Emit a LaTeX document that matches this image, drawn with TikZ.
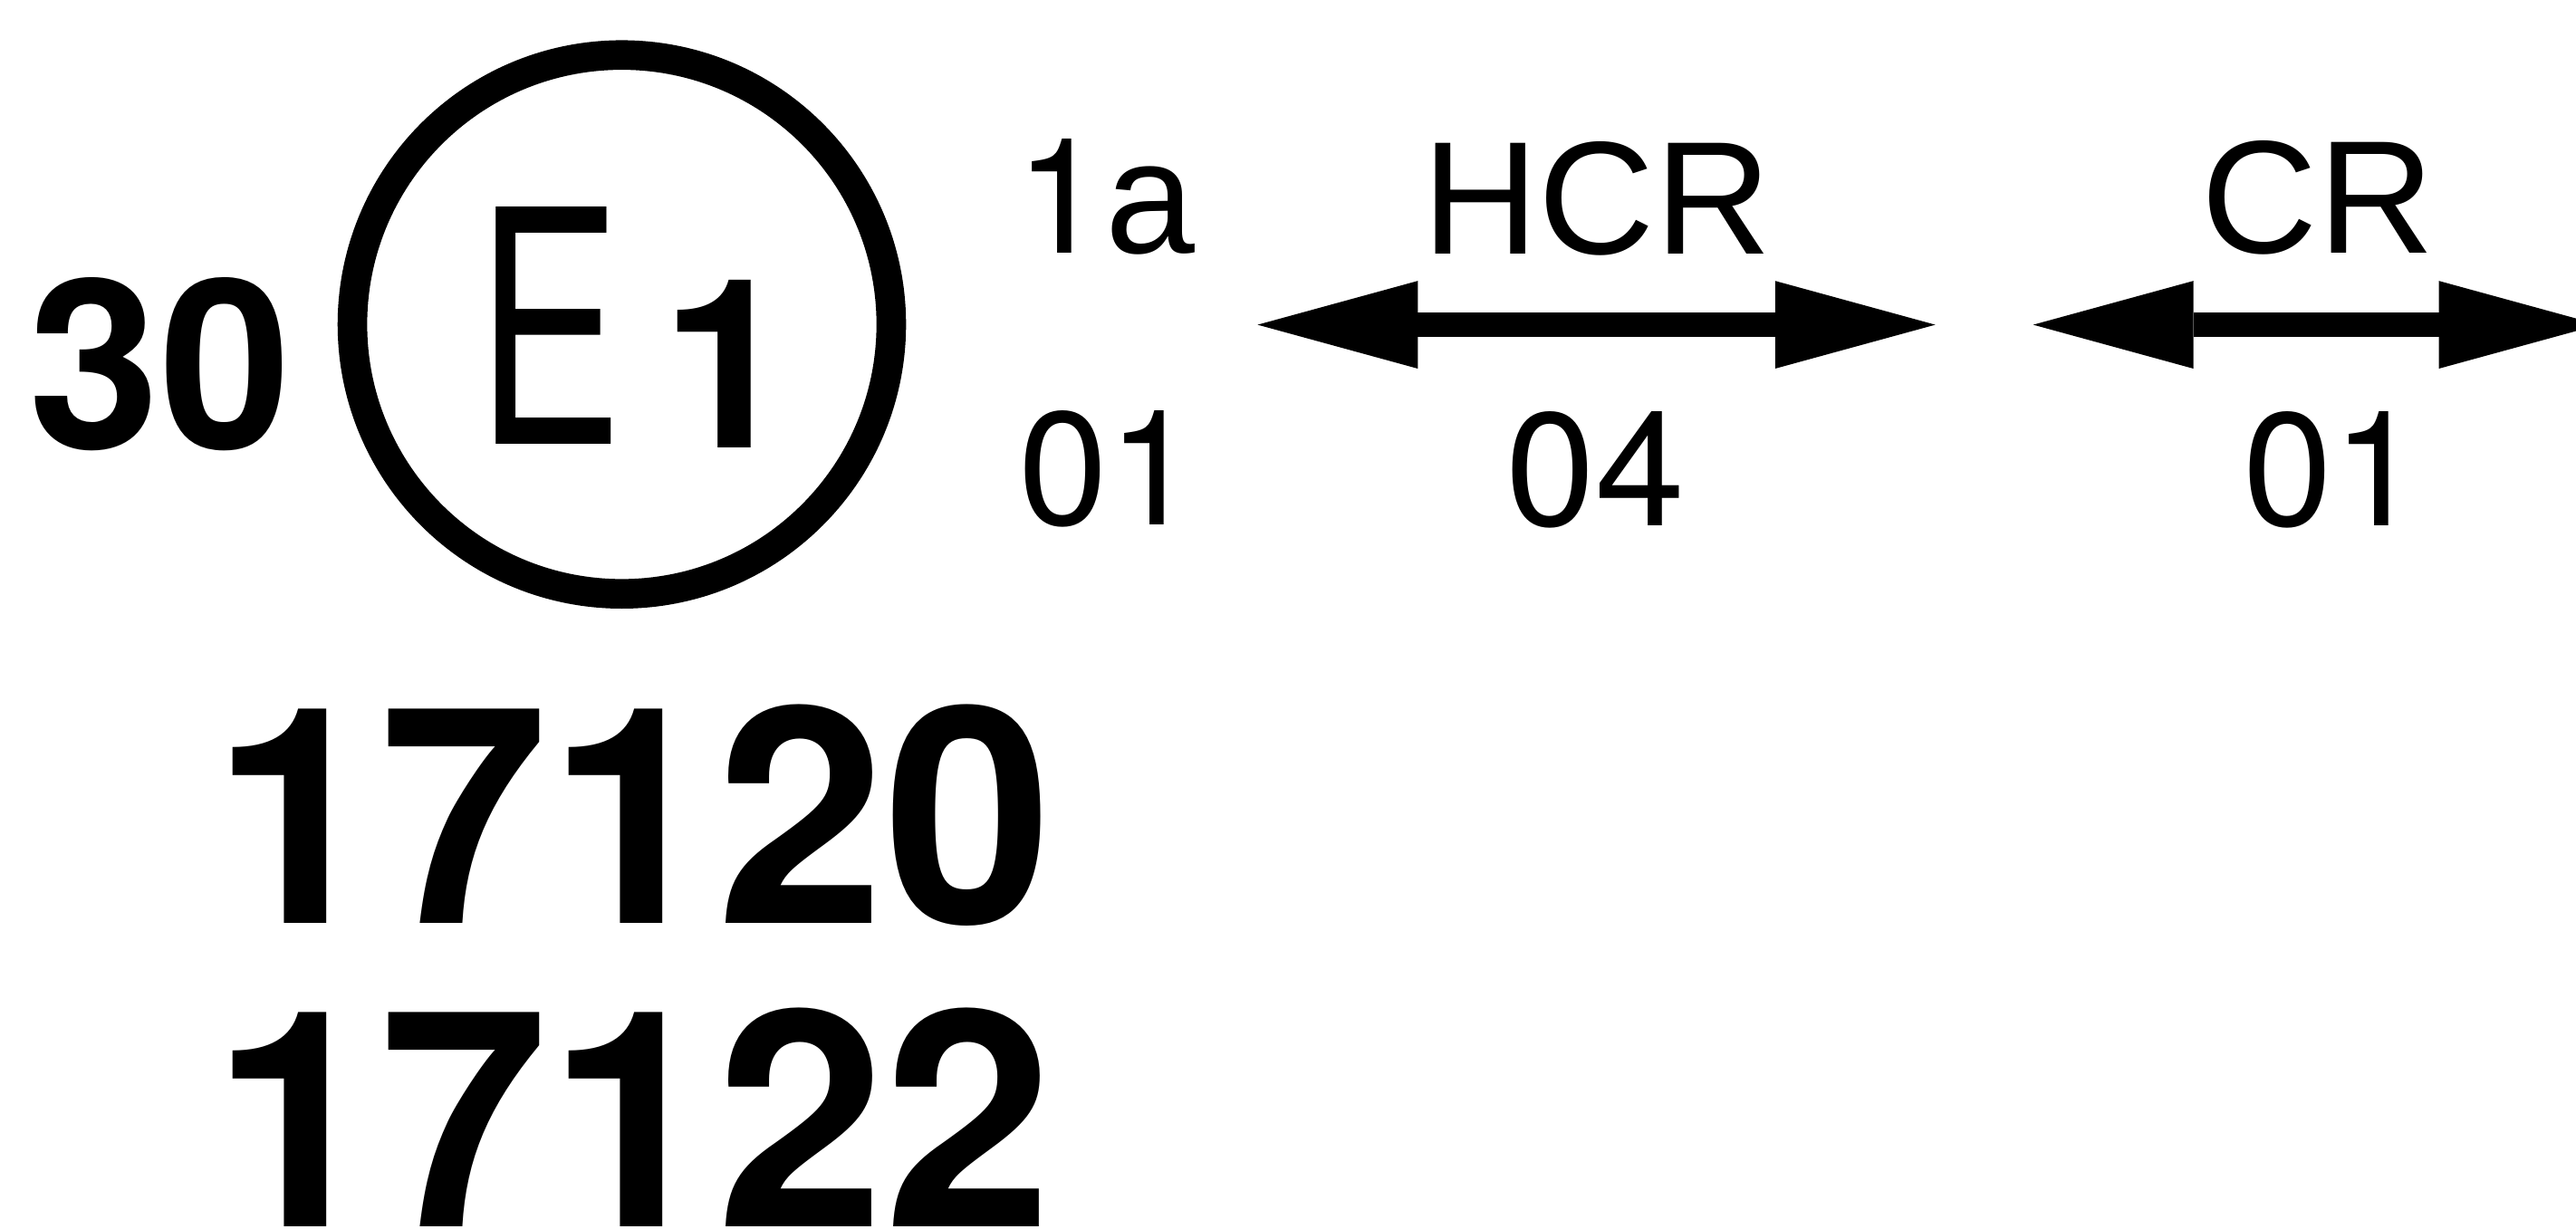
\documentclass[tikz,border=0pt]{standalone}
\usepackage{fontspec}
\usepackage{graphicx}
\setmainfont{Liberation Sans}
\newfontfamily\digitfont{TeX Gyre Heros}
\usetikzlibrary{arrows.meta}
\begin{document}
\begin{tikzpicture}[x=0.5pt,y=-0.5pt,
  lbl/.style={inner sep=0pt, font=\fontsize{49}{50}\selectfont},
  numlbl/.style={inner sep=0pt, font=\digitfont\fontsize{49}{50}\selectfont},
  bignum/.style={inner sep=0pt, font=\digitfont\bfseries\fontsize{92}{96}\selectfont},
  midnum/.style={inner sep=0pt, font=\digitfont\bfseries\fontsize{72}{76}\selectfont},
  efont/.style={inner sep=0pt, font=\fontsize{105}{105}\selectfont},
  ring/.style={circle, draw, line width=9pt, minimum size=164pt, inner sep=0pt},
  dblarrow/.style={line width=7.25pt,
    {Triangle[length=48.75pt,width=26.7pt,line width=0pt]}-{Triangle[length=48.75pt,width=26.7pt,line width=0pt]}}]
\path[use as bounding box] (0,0) rectangle (1568,748);
\clip (0,0) rectangle (1568,748);
% approval mark
\node[midnum] (thirty) at (97.5,221.5) {30};
\node[ring] (circ) at (378.5,197.5) {};
\node[efont] (E) at (334.5,198) {\scalebox{0.615}[1]{E}};
\node[midnum] (one) at (443,221.5) {1};
% labels
\node[lbl] (oneA) at (673,120) {{\digitfont 1}a};
\node[numlbl] (zeroOneL) at (674.5,285.5) {01};
\node[lbl] (hcr) at (972,121) {HCR};
\node[numlbl] (zeroFour) at (971,286) {04};
\node[lbl] (cr) at (1411,120.5) {CR};
\node[numlbl] (zeroOneR) at (1420,286) {01};
% arrows
\coordinate (a1l) at (765.5,197.7);
\coordinate (a1r) at (1178,197.7);
\coordinate (a2l) at (1237.6,197.7);
\coordinate (a2r) at (1582,197.7);
\draw[dblarrow] (a1l) -- (a1r);
\draw[dblarrow] (a2l) -- (a2r);
% numbers
\node[bignum] (numA) at (385,496.5) {17120};
\node[bignum] (numB) at (385,680) {17122};
\end{tikzpicture}
\end{document}
